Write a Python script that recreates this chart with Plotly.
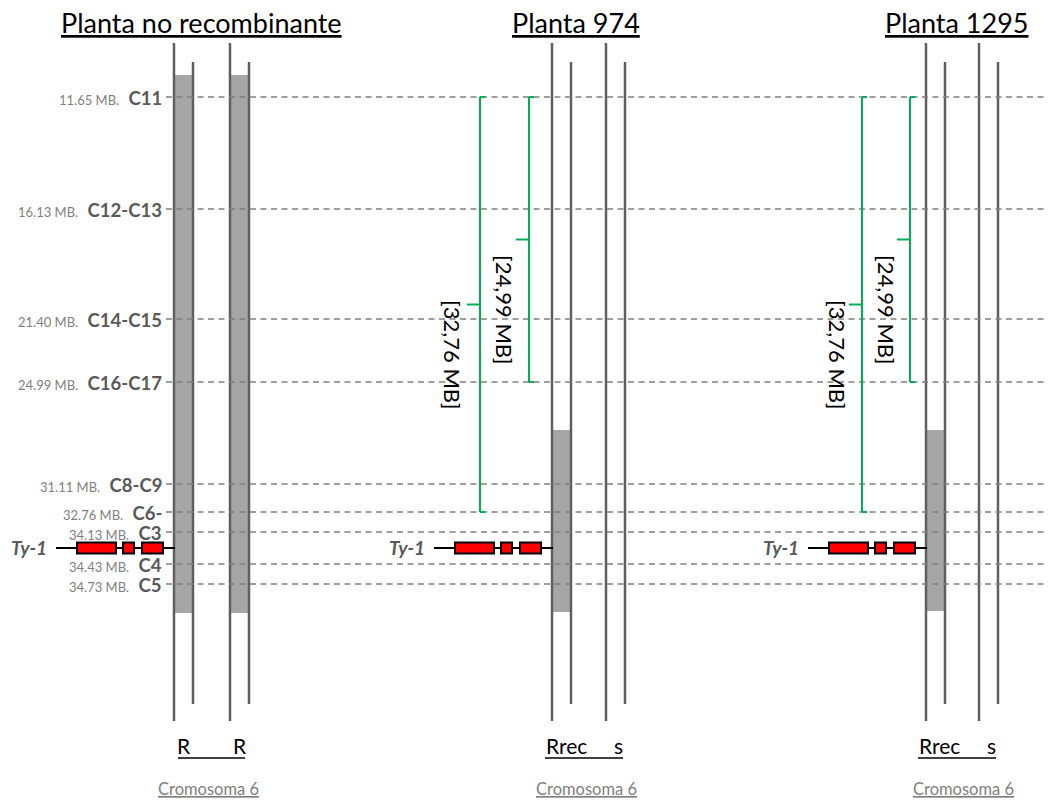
import plotly.graph_objects as go

# ---------------- data ----------------
marker_names = ["C11", "C12-C13", "C14-C15", "C16-C17", "C8-C9", "C6-", "C3", "C4", "C5"]
marker_mb = ["11.65", "16.13", "21.40", "24.99", "31.11", "32.76", "34.13", "34.43", "34.73"]
# schematic (not-to-scale) row of each marker on the drawing
marker_row = [97, 209, 319, 382, 484, 512, 532, 564, 584]
ty1_row = 548

plant_titles = ["Planta no recombinante", "Planta 974", "Planta 1295"]
title_x = [201, 576, 956]
# left edge of each chromosome (two homologues per plant)
chrom_x = [[174, 230], [552, 606], [926, 979]]
chrom_labels = [["R", "R"], ["Rrec", "s"], ["Rrec", "s"]]
label_off = [[10, 10], [14, 12], [13, 12]]
# introgressed (grey) segment on each chromosome: (top, bottom) or None
grey_segment = [[(75, 613), (75, 613)], [(430, 612), None], [(430, 611), None]]

# Ty-1 gene model (relative to chromosome edge)
gene_span = (-118, 1)
gene_exons = [(-97, -58), (-51, -40), (-32, -11)]

# green brackets: [from marker index, to marker index, text]
brackets = [(0, 5, "[32,76 MB]"), (0, 3, "[24,99 MB]")]
bracket_x = [[480, 529], [862, 910]]
bracket_text_x = [[453, 505], [838, 887]]
bracket_text_y = [355, 310]

chrom_caption = "Cromosoma 6"
caption_x = [208, 586, 963]

# ---------------- styles ----------------
FONT = "Lato"
GREY_LINE = "#5f5f5f"
GREY_FILL = "#a6a6a6"
GREEN = "#00b050"

fig = go.Figure()
shapes = []
annots = []

# grey segments
for p in range(3):
    for c in range(2):
        seg = grey_segment[p][c]
        if seg:
            x0 = chrom_x[p][c]
            shapes.append(dict(type="rect", x0=x0, x1=x0 + 19, y0=seg[0], y1=seg[1],
                               fillcolor=GREY_FILL, line=dict(width=0), layer="above"))

# chromosome lines
for p in range(3):
    for c in range(2):
        x0 = chrom_x[p][c]
        shapes.append(dict(type="line", x0=x0, x1=x0, y0=43, y1=721,
                           line=dict(color=GREY_LINE, width=2.5)))
        shapes.append(dict(type="line", x0=x0 + 19, x1=x0 + 19, y0=62, y1=704,
                           line=dict(color=GREY_LINE, width=2.5)))

# dashed marker lines
for y in marker_row:
    shapes.append(dict(type="line", x0=166, x1=1047, y0=y, y1=y,
                       line=dict(color="#808080", width=1.3, dash="6px,4.5px")))

# marker labels
for name, mb, y in zip(marker_names, marker_mb, marker_row):
    annots.append(dict(x=164, y=y + 1, xanchor="right", yanchor="middle", showarrow=False,
                       text=f"<span style='font-size:13px;color:#7f7f7f'>{mb} MB.</span>\u00a0\u00a0<b>{name}</b>",
                       font=dict(family=FONT, size=18.5, color="#595959")))

# Ty-1 gene on the first chromosome of every plant
for p in range(3):
    cx = chrom_x[p][0]
    shapes.append(dict(type="line", x0=cx + gene_span[0], x1=cx + gene_span[1], y0=ty1_row, y1=ty1_row,
                       line=dict(color="black", width=2)))
    for e0, e1 in gene_exons:
        shapes.append(dict(type="rect", x0=cx + e0, x1=cx + e1, y0=ty1_row - 5.5, y1=ty1_row + 5.5,
                           fillcolor="#ff0000", line=dict(color="black", width=2)))
    annots.append(dict(x=cx - 125, y=ty1_row - 1, xanchor="right", yanchor="middle", showarrow=False,
                       text="<b><i>Ty-1</i></b>", font=dict(family=FONT, size=19, color="#595959")))

# green brackets (plants 974 and 1295)
for p in range(2):
    for b, (i0, i1, txt) in enumerate(brackets):
        bx = bracket_x[p][b]
        y0, y1 = marker_row[i0], marker_row[i1]
        ym = (y0 + y1) / 2
        ln = dict(color=GREEN, width=2)
        shapes.append(dict(type="line", x0=bx, x1=bx, y0=y0, y1=y1, line=ln))
        shapes.append(dict(type="line", x0=bx, x1=bx + 5, y0=y0, y1=y0, line=ln))
        shapes.append(dict(type="line", x0=bx, x1=bx + 5, y0=y1, y1=y1, line=ln))
        shapes.append(dict(type="line", x0=bx - 13, x1=bx, y0=ym, y1=ym, line=ln))
        annots.append(dict(x=bracket_text_x[p][b], y=bracket_text_y[b], textangle=90, showarrow=False,
                           xanchor="center", yanchor="middle", text=txt,
                           font=dict(family=FONT, size=22, color="black")))

# titles
for t, x in zip(plant_titles, title_x):
    annots.append(dict(x=x, y=22, xanchor="center", yanchor="middle", showarrow=False,
                       text=f"<u>{t}</u>", font=dict(family=FONT, size=27, color="black")))

# chromosome labels + underline
for p in range(3):
    xs = []
    for c in range(2):
        x = chrom_x[p][c] + label_off[p][c]
        annots.append(dict(x=x, y=745, xanchor="center", yanchor="middle", showarrow=False,
                           text=chrom_labels[p][c], font=dict(family=FONT, size=21, color="black")))
        xs.append(x)
    w0 = 6 if len(chrom_labels[p][0]) == 1 else 21
    w1 = 6 if len(chrom_labels[p][1]) == 1 else 21
    shapes.append(dict(type="line", x0=xs[0] - w0, x1=xs[1] + w1 - 1, y0=758, y1=758,
                       line=dict(color="black", width=1.5)))
    annots.append(dict(x=caption_x[p], y=789, xanchor="center", yanchor="middle", showarrow=False,
                       text=f"<u>{chrom_caption}</u>", font=dict(family=FONT, size=16.5, color="#7f7f7f")))

fig.update_layout(
    width=1048, height=801, margin=dict(l=0, r=0, t=0, b=0),
    paper_bgcolor="white", plot_bgcolor="white",
    xaxis=dict(range=[0, 1048], visible=False, fixedrange=True),
    yaxis=dict(range=[801, 0], visible=False, fixedrange=True),
    shapes=shapes, annotations=annots, showlegend=False,
)
fig.write_html("out.html")
